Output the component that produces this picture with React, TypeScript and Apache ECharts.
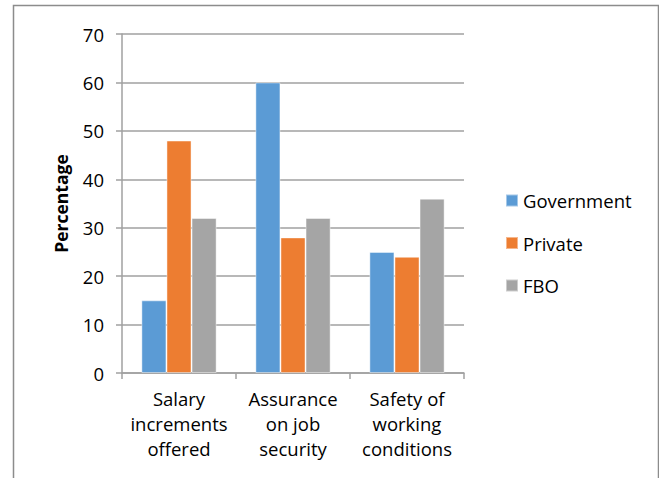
import React, { useEffect, useRef } from "react";
import * as echarts from "echarts";

const categories = ["Salary\nincrements\noffered", "Assurance\non job\nsecurity", "Safety of\nworking\nconditions"];
const seriesNames = ["Government", "Private", "FBO"];
const government = [15, 60, 25];
const privateVals = [48, 28, 24];
const fbo = [32, 32, 36];
const colors = ["#5B9BD5", "#ED7D31", "#A5A5A5"];

const FONT = "Open Sans";
const FS = 18.5;

export default function App() {
  const ref = useRef<HTMLDivElement>(null);
  useEffect(() => {
    document.body.style.margin = "0";
    const chart = echarts.init(ref.current!, null, { renderer: "svg" });
    const data = [government, privateVals, fbo];
    chart.setOption({
      animation: false,
      textStyle: { fontFamily: FONT },
      graphic: [
        {
          type: "rect",
          shape: { x: 13.5, y: 5.5, width: 645, height: 490 },
          style: { fill: "none", stroke: "#8c8c8c", lineWidth: 1.5 },
          silent: true,
        },
      ],
      grid: { left: 122, right: 195, top: 34, bottom: 105 },
      legend: {
        orient: "vertical",
        left: 500,
        top: 186,
        itemWidth: 12,
        itemHeight: 12,
        itemGap: 23.5,
        icon: "rect",
        textStyle: { fontSize: FS, color: "#000", fontFamily: FONT },
        data: seriesNames,
      },
      xAxis: {
        type: "category",
        data: categories,
        axisLine: { show: true, lineStyle: { color: "#a0a0a0", width: 1.5 } },
        axisTick: { show: true, length: 6, lineStyle: { color: "#a0a0a0", width: 1.5 } },
        axisLabel: { fontSize: FS, color: "#000", lineHeight: 25, margin: 13, interval: 0, fontFamily: FONT },
      },
      yAxis: {
        type: "value",
        min: 0,
        max: 70,
        interval: 10,
        name: "Percentage",
        nameLocation: "middle",
        nameRotate: 90,
        nameGap: 52,
        nameTextStyle: { fontSize: 17.5, fontWeight: "bold", color: "#000", fontFamily: FONT },
        axisLine: { show: true, lineStyle: { color: "#a0a0a0", width: 1.5 } },
        axisTick: { show: true, length: 6, lineStyle: { color: "#a0a0a0", width: 1.5 } },
        splitLine: { show: true, lineStyle: { color: "#a0a0a0", width: 1.5 } },
        axisLabel: { fontSize: FS, color: "#000", margin: 18, fontFamily: FONT },
      },
      series: seriesNames.map((n, i) => ({
        name: n,
        type: "bar",
        data: data[i],
        barGap: "0%",
        barCategoryGap: "34%",
        itemStyle: { color: colors[i], borderColor: "rgba(255,255,255,0.45)", borderWidth: 1 },
      })),
    });
    return () => chart.dispose();
  }, []);
  return <div ref={ref} style={{ width: 659, height: 478 }} />;
}
